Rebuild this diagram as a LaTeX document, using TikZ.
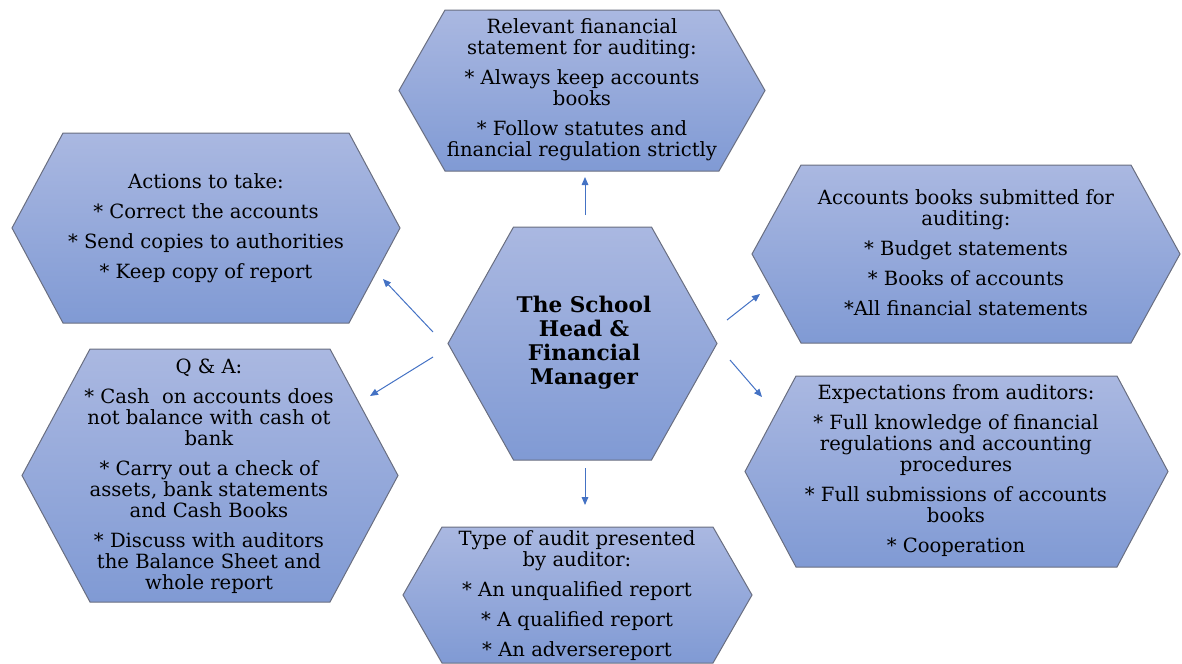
\documentclass[tikz,border=0pt]{standalone}
\usepackage{fontspec}
\setmainfont{DejaVu Serif}
\usetikzlibrary{arrows.meta}

\definecolor{hextop}{RGB}{170,184,225}
\definecolor{hexbottom}{RGB}{128,154,212}
\definecolor{hexline}{RGB}{105,110,128}
\definecolor{arrowblue}{RGB}{68,114,196}

\tikzset{
    hexbox/.style={draw=hexline, line width=0.75pt, top color=hextop, bottom color=hexbottom},
    hextext/.style={align=center, inner sep=0pt, font=\fontsize{14.7}{15.75}\selectfont},
    headtext/.style={align=center, inner sep=0pt, font=\bfseries\fontsize{16.2}{18}\selectfont},
    link/.style={arrowblue, line width=0.75pt, -{Triangle[length=6pt,width=5pt]}},
}

% centre x, centre y, outer half width, inner half width, half height
\newcommand{\hexpatch}[5]{%
    \draw[hexbox, shift={(#1,#2)}] (-#3,0) -- (-#4,-#5) -- (#4,-#5) -- (#3,0)
        -- (#4,#5) -- (-#4,#5) -- cycle;
}

\begin{document}
\begin{tikzpicture}[x=0.75pt, y=-0.75pt]
    \useasboundingbox (0,0) rectangle (1182,664);

    \hexpatch{582}{90.5}{183}{137}{80.5}
    \hexpatch{206}{228}{194}{143}{95}
    \hexpatch{966}{254}{214}{165}{89}
    \hexpatch{210}{475.5}{188}{120}{126.5}
    \hexpatch{956.5}{471.5}{211.5}{160.5}{95.5}
    \hexpatch{577.5}{595}{174.5}{135.5}{68}
    \hexpatch{582.5}{343.5}{134.5}{69}{116.5}

    \node[headtext] (head) at (584,343) {The School\\Head \&\\Financial\\Manager};

    \node[hextext] (statement) at (582,90) {Relevant fianancial\\statement for auditing:\\[6.75pt]
        * Always keep accounts\\books\\[6.75pt]
        * Follow statutes and\\financial regulation strictly};
    \node[hextext] (actions) at (206,228) {Actions to take:\\[6.75pt]
        * Correct the accounts\\[6.75pt]
        * Send copies to authorities\\[6.75pt]
        * Keep copy of report};
    \node[hextext] (submitted) at (966,253) {Accounts books submitted for\\auditing:\\[6.75pt]
        * Budget statements\\[6.75pt]
        * Books of accounts\\[6.75pt]
        *All financial statements};
    \node[hextext] (qa) at (209,476) {Q \& A:\\[6.75pt]
        * Cash\ \ on accounts does\\not balance with cash ot\\bank\\[6.75pt]
        * Carry out a check of\\assets, bank statements\\and Cash Books\\[6.75pt]
        * Discuss with auditors\\the Balance Sheet and\\whole report};
    \node[hextext] (expect) at (956,471) {Expectations from auditors:\\[6.75pt]
        * Full knowledge of financial\\regulations and accounting\\procedures\\[6.75pt]
        * Full submissions of accounts\\books\\[6.75pt]
        * Cooperation};
    \node[hextext] (audit) at (577,596) {Type of audit presented\\by auditor:\\[6.75pt]
        * An unqualified report\\[6.75pt]
        * A qualified report\\[6.75pt]
        * An adversereport};

    % arrow ends
    \coordinate (up-s) at (585,215);
    \coordinate (up-e) at (585,177);
    \coordinate (down-s) at (585,468);
    \coordinate (down-e) at (585,505);
    \coordinate (lu-s) at (433,332);
    \coordinate (lu-e) at (383,279);
    \coordinate (ld-s) at (433,357);
    \coordinate (ld-e) at (370,396);
    \coordinate (ru-s) at (727,320);
    \coordinate (ru-e) at (760,294);
    \coordinate (rd-s) at (730,360);
    \coordinate (rd-e) at (762,397);

    \draw[link] (up-s) -- (up-e);
    \draw[link] (down-s) -- (down-e);
    \draw[link] (lu-s) -- (lu-e);
    \draw[link] (ld-s) -- (ld-e);
    \draw[link] (ru-s) -- (ru-e);
    \draw[link] (rd-s) -- (rd-e);
\end{tikzpicture}
\end{document}
